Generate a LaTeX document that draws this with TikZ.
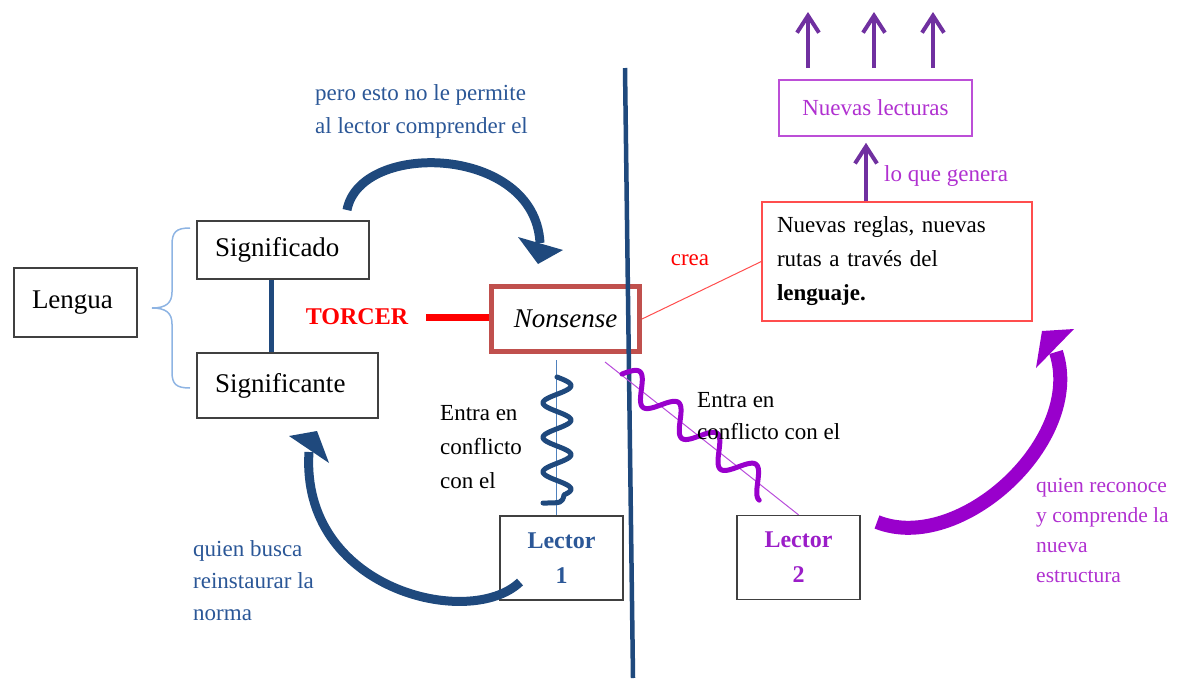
\documentclass[tikz,border=0pt]{standalone}
\usepackage{fontspec}
\setmainfont{Liberation Serif}
\usetikzlibrary{arrows.meta,calc}
\definecolor{dblue}{HTML}{1F497D}
\definecolor{lblue}{HTML}{4F81BD}
\definecolor{tblue}{HTML}{2B5797}
\definecolor{brace}{HTML}{8EB4E3}
\definecolor{nsred}{HTML}{C0504D}
\definecolor{thinred}{HTML}{FF4D4D}
\definecolor{purpA}{HTML}{7030A0}
\definecolor{violetW}{HTML}{9900CC}
\definecolor{magT}{HTML}{B030D0}
\definecolor{lec2}{HTML}{9B1DC8}
\definecolor{boxgray}{HTML}{404040}
\tikzset{
  big/.style={font=\fontsize{27}{32}\selectfont},
  med/.style={font=\fontsize{23}{34}\selectfont},
  box/.style={draw=boxgray, line width=1.4pt, inner ysep=0pt},
  lbox/.style={box, text width=#1, align=left, inner xsep=18pt},
  lecbox/.style={box, minimum width=123pt, minimum height=84pt, align=center, inner xsep=0pt,
                 font=\fontsize{24}{35}\selectfont\bfseries},
  uparr/.style={draw=purpA, line width=4pt, -{Straight Barb[length=17pt,width=22pt]}},
  wavy/.style={line width=5pt, line cap=round, line join=round},
  note/.style={align=left, anchor=west, inner sep=0pt},
}
\begin{document}
\begin{tikzpicture}[x=1pt,y=-1pt]
\useasboundingbox (0,0) rectangle (1189,678);

% ---- left part ----
\node[lbox=87pt, big, minimum height=69pt] (lengua) at (75.5,302.5) {Lengua};
\node[lbox=136pt, big, minimum height=58pt] (sdo) at (283,250) {Significado};
\node[lbox=145pt, big, minimum height=65pt] (ste) at (287.5,385.5) {Significante};
\draw[brace, line width=1.5pt] (190,228) .. controls (176,228) and (172,232) .. (172,245)
  -- (172,292) .. controls (172,303) and (166,308) .. (152,308)
  .. controls (166,308) and (172,313) .. (172,324) -- (172,372)
  .. controls (172,384) and (176,388) .. (190,388);
\coordinate (ml) at (271,0);
\draw[dblue, line width=5pt] (sdo.south -| ml) -- (ste.north -| ml);

\node[font=\fontsize{24}{28}\selectfont\bfseries, text=red, inner sep=0pt] (torcer) at (357,317) {TORCER};

\node[draw=nsred, line width=5pt, minimum width=148pt, minimum height=65pt, inner sep=0pt,
      font=\fontsize{27}{32}\selectfont\itshape] (nonsense) at (565.5,319) {Nonsense};
\draw[red, line width=7pt, shorten <=18pt] (torcer.east) -- (torcer.east -| nonsense.west);

% ---- right boxes ----
\node[draw=thinred, line width=1.3pt, text width=240pt, minimum height=119pt, inner xsep=15pt,
      align=left, med] (reglas) at (897,261.5)
  {Nuevas reglas, nuevas\\rutas a través del\\\textbf{lenguaje.}};
\node[draw=magT!85, line width=1.6pt, minimum width=193pt, minimum height=56pt, inner sep=0pt,
      med, text=magT] (lecturas) at (875.5,108) {Nuevas lecturas};

\node[lecbox, text=tblue] (lec1) at (561.5,558) {Lector\\1};
\node[lecbox, text=lec2] (lec2) at (798.5,557.5) {Lector\\2};

% ---- divider ----
\coordinate (dtop) at (625,68);
\coordinate (dbot) at (633,678);
\draw[dblue, line width=4.5pt] (dtop) -- (dbot);

% ---- crea ----
\draw[thinred, line width=1pt] (nonsense.east) -- (reglas.west);
\node[med, text=red] (crea) at (690,260) {crea};

% ---- lo que genera ----
\coordinate (gx) at (866,0);
\draw[uparr, shorten >=6pt] (reglas.north -| gx) -- (lecturas.south -| gx);
\node[med, note, text=magT] (genera) at (884,176) {lo que genera};

% ---- three arrows up ----
\coordinate (u1) at (808,12);
\coordinate (u2) at (874,12);
\coordinate (u3) at (933,12);
\draw[uparr, shorten <=11pt] (lecturas.north -| u1) -- (u1);
\draw[uparr, shorten <=11pt] (lecturas.north -| u2) -- (u2);
\draw[uparr, shorten <=11pt] (lecturas.north -| u3) -- (u3);

% ---- lector 1 conflict ----
\coordinate (cx) at (556,0);
\draw[lblue, line width=1pt, shorten <=6pt] (nonsense.south -| cx) -- (lec1.north -| cx);
\draw[dblue, wavy] plot[domain=0:3.4167, samples=220, smooth] ({557+14*sin(\x*360)}, {377+\x*34.5})
   .. controls (562,503) .. (543,503);
\node[note, font=\fontsize{23}{34}\selectfont] (ent1) at (440,447) {Entra en\\conflicto\\con el};

% ---- lector 2 conflict ----
\draw[violetW!70, line width=1pt] (nonsense.south east) ++(-37,8) coordinate (pd0) -- (lec2.north);
\begin{scope}[shift={(622,374)}, rotate=-38.6]
\draw[violetW, wavy] plot[domain=0:186, samples=200, smooth] (\x, {-13*sin(\x/186*3.75*360)});
\end{scope}
\node[note, font=\fontsize{23}{32}\selectfont] (ent2) at (697,416) {Entra en\\conflicto con el};

% ---- curved arrows ----
\draw[dblue, line width=9pt] (347,210) .. controls (360,140) and (535,145) .. (540,243);
\fill[dblue] (518,237) -- (563,250) -- (538,264) -- cycle;
\node[note, text=tblue, font=\fontsize{23}{33}\selectfont] (pero) at (315,111)
  {pero esto no le permite\\al lector comprender el};

\draw[dblue, line width=9pt] (520,582) .. controls (470,630) and (300,590) .. (309,452);
\fill[dblue] (289,436) -- (317,431) -- (329,463) -- cycle;
\node[note, text=tblue, font=\fontsize{23}{32}\selectfont] (busca) at (193,581)
  {quien busca\\reinstaurar la\\norma};

\draw[violetW, line width=14pt] (877,522) .. controls (960,555) and (1085,440) .. (1056,352);
\fill[violetW] (1036,368) -- (1042,331) -- (1074,329) -- cycle;
\node[note, text=magT, font=\fontsize{21.5}{30}\selectfont] (recon) at (1036,530)
  {quien reconoce\\y comprende la\\nueva\\estructura};
\end{tikzpicture}
\end{document}
